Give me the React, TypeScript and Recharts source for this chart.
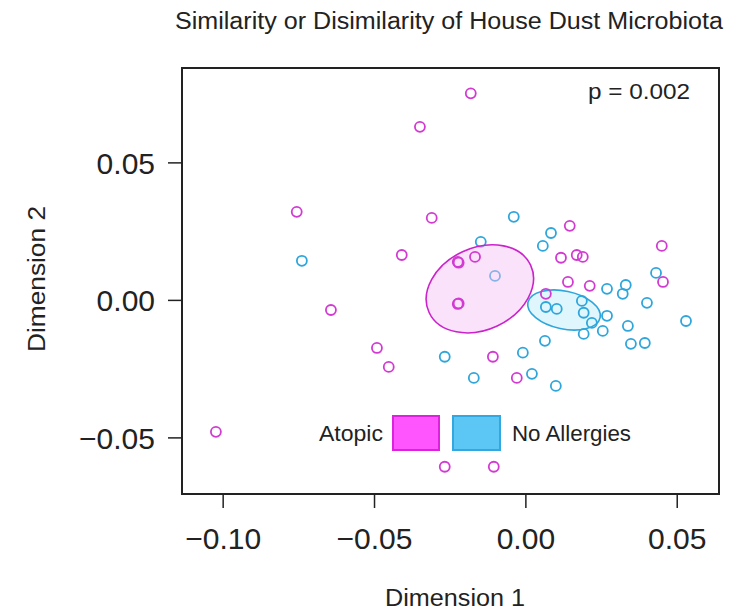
import { ReferenceArea, Scatter, ScatterChart, XAxis, YAxis } from 'recharts';

// axis ranges / ticks
const X_MIN = -0.1136;
const X_MAX = 0.0638;
const Y_MIN = -0.0704;
const Y_MAX = 0.0845;
const X_TICKS = [-0.1, -0.05, 0, 0.05];
const Y_TICKS = [-0.05, 0, 0.05];

// Atopic samples
const ATOPIC_X = [-0.0182, -0.035, -0.0757, -0.0311, -0.041, -0.0225, -0.0222, -0.0168, -0.0225, -0.0222, -0.0644, -0.0492, -0.0453, -0.1024, -0.0109, -0.003, -0.0268, -0.0106, 0.0145, 0.0116, 0.0168, 0.0188, 0.0139, 0.0211, 0.0066, 0.0449, 0.0453];
const ATOPIC_Y = [0.0753, 0.0631, 0.0322, 0.03, 0.0165, 0.014, 0.0137, 0.0158, -0.0013, -0.0011, -0.0035, -0.0173, -0.0242, -0.0478, -0.0205, -0.0282, -0.0605, -0.0605, 0.0271, 0.0155, 0.0165, 0.0158, 0.0067, 0.0053, 0.0024, 0.0198, 0.0067];

// No Allergies samples
const NOALL_X = [-0.074, -0.0149, -0.004, -0.0102, 0.0056, 0.0083, 0.0268, 0.032, 0.033, 0.04, 0.043, 0.0529, 0.0066, 0.0102, 0.0185, 0.0191, 0.0218, 0.0268, 0.0191, 0.0254, 0.0337, 0.0347, 0.0393, 0.0063, -0.0268, -0.001, -0.0172, 0.002, 0.0099];
const NOALL_Y = [0.0144, 0.0213, 0.0304, 0.0089, 0.0198, 0.0245, 0.0042, 0.0024, 0.0056, -0.0009, 0.01, -0.0075, -0.0024, -0.0031, -0.0002, -0.0045, -0.0082, -0.0056, -0.0122, -0.0111, -0.0093, -0.0158, -0.0155, -0.0147, -0.0205, -0.019, -0.0282, -0.0267, -0.0311];

// group ellipses: centre, semi-axes (x units / y units), tilt
const ELLIPSE_GROUP = ['Atopic', 'No Allergies'];
const ELLIPSE_X = [-0.0152, 0.0126];
const ELLIPSE_Y = [0.0042, -0.0035];
const ELLIPSE_A = [0.0185, 0.0122];
const ELLIPSE_B = [0.0149, 0.0069];
const ELLIPSE_ANGLE = [-25, 12];

const W = 742;
const H = 610;
const MARGIN = { top: 68, right: 23, left: 0, bottom: 56 };
const Y_AXIS_W = 182;
const X_AXIS_H = 60;
const PLOT_W = W - MARGIN.left - MARGIN.right - Y_AXIS_W;
const PLOT_H = H - MARGIN.top - MARGIN.bottom - X_AXIS_H;
const PX_X = PLOT_W / (X_MAX - X_MIN);
const PX_Y = PLOT_H / (Y_MAX - Y_MIN);

const MAGENTA = '#d23ad2';
const CYAN = '#2ea6dc';
const FONT = '"Liberation Sans", Arial, Helvetica, sans-serif';

const atopic = ATOPIC_X.map((x, i) => ({ x, y: ATOPIC_Y[i] }));
const noAllergies = NOALL_X.map((x, i) => ({ x, y: NOALL_Y[i] }));
const ellipses = ELLIPSE_GROUP.map((g, i) => ({
  group: g,
  x: ELLIPSE_X[i],
  y: ELLIPSE_Y[i],
  a: ELLIPSE_A[i],
  b: ELLIPSE_B[i],
  angle: ELLIPSE_ANGLE[i],
}));

const fmt = (v: number) => (v < 0 ? '\u2212' : '') + Math.abs(v).toFixed(2);

const ring = (color: string) => (props: any) => (
  <circle cx={props.cx} cy={props.cy} r={5} fill="none" stroke={color} strokeWidth={1.8} />
);

function EllipseShape(props: any) {
  const { cx, cy, payload } = props;
  const atopicGroup = payload.group === 'Atopic';
  return (
    <ellipse
      cx={cx}
      cy={cy}
      rx={payload.a * PX_X}
      ry={payload.b * PX_Y}
      transform={`rotate(${payload.angle} ${cx} ${cy})`}
      fill={atopicGroup ? '#f5bff5' : '#b6ebf8'}
      fillOpacity={0.45}
      stroke={atopicGroup ? '#cc22cc' : CYAN}
      strokeWidth={1.6}
    />
  );
}

export default function App() {
  const tickStyle = { fontSize: 30, fill: '#222', fontFamily: FONT };
  return (
    <div style={{ position: 'absolute', left: 0, top: 0, width: W, height: H, background: '#fff' }}>
      <ScatterChart width={W} height={H} margin={MARGIN}>
        <XAxis
          type="number"
          dataKey="x"
          domain={[X_MIN, X_MAX]}
          ticks={X_TICKS}
          allowDataOverflow
          height={X_AXIS_H}
          axisLine={false}
          tickSize={14}
          tickMargin={20}
          tickLine={{ stroke: '#222', strokeWidth: 1.5 }}
          tick={tickStyle}
          tickFormatter={fmt}
        />
        <YAxis
          type="number"
          dataKey="y"
          domain={[Y_MIN, Y_MAX]}
          ticks={Y_TICKS}
          allowDataOverflow
          width={Y_AXIS_W}
          axisLine={false}
          tickSize={14}
          tickMargin={13}
          tickLine={{ stroke: '#222', strokeWidth: 1.5 }}
          tick={tickStyle}
          tickFormatter={fmt}
        />
        {/* ellipse of each group sits under its own points but over the other group */}
        <Scatter name="No Allergies ellipse" data={ellipses.slice(1)} shape={EllipseShape} isAnimationActive={false} />
        <Scatter name="No Allergies" data={noAllergies} shape={ring(CYAN)} isAnimationActive={false} />
        <Scatter name="Atopic ellipse" data={ellipses.slice(0, 1)} shape={EllipseShape} isAnimationActive={false} />
        <Scatter name="Atopic" data={atopic} shape={ring(MAGENTA)} isAnimationActive={false} />
        <ReferenceArea x1={X_MIN} x2={X_MAX} y1={Y_MIN} y2={Y_MAX} fill="none" stroke="#222" strokeWidth={2} />

        {/* titles and annotations */}
        <text x={449} y={29} textAnchor="middle" fontFamily={FONT} fontSize={23} fill="#222" textLength={548} lengthAdjust="spacingAndGlyphs">
          Similarity or Disimilarity of House Dust Microbiota
        </text>
        <text x={455} y={606} textAnchor="middle" fontFamily={FONT} fontSize={23} fill="#222" textLength={140} lengthAdjust="spacingAndGlyphs">
          Dimension 1
        </text>
        <text x={45} y={279} textAnchor="middle" fontFamily={FONT} fontSize={23} fill="#222" transform="rotate(-90 45 279)" textLength={146} lengthAdjust="spacingAndGlyphs">
          Dimension 2
        </text>
        <text x={690} y={99} textAnchor="end" fontFamily={FONT} fontSize={22} fill="#222" textLength={102} lengthAdjust="spacingAndGlyphs">
          p = 0.002
        </text>

        {/* legend */}
        <text x={383} y={441} textAnchor="end" fontFamily={FONT} fontSize={22} fill="#222" textLength={64} lengthAdjust="spacingAndGlyphs">Atopic</text>
        <rect x={393} y={416} width={46} height={34} fill="#ff55ff" stroke="#dd22dd" strokeWidth={2} />
        <rect x={453} y={416} width={47} height={34} fill="#5cc6f4" stroke="#33a8e0" strokeWidth={2} />
        <text x={512} y={441} fontFamily={FONT} fontSize={22} fill="#222" textLength={119} lengthAdjust="spacingAndGlyphs">No Allergies</text>
      </ScatterChart>
    </div>
  );
}
